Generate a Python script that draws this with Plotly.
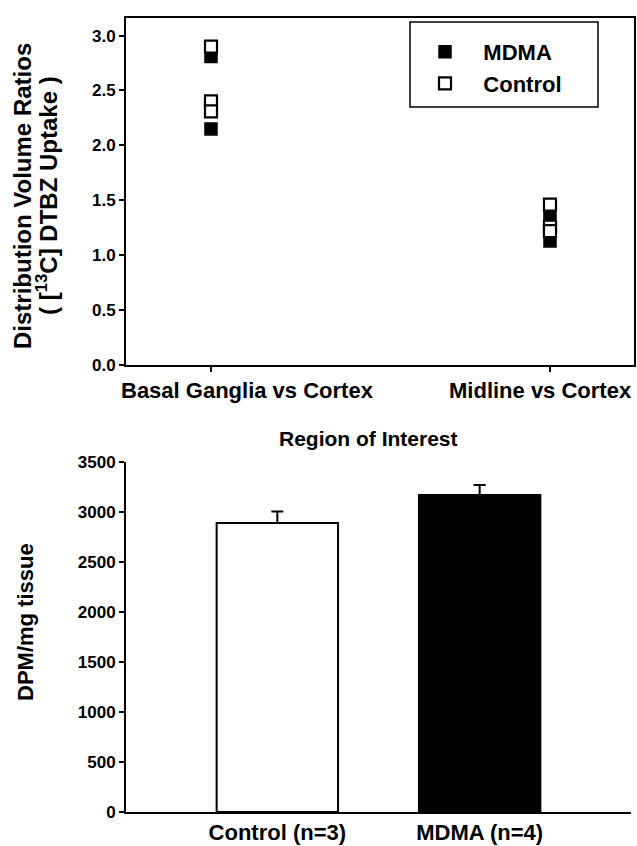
import plotly.graph_objects as go

W, H = 637, 846

# ---- data: top scatter ----
regions = ["Basal Ganglia vs Cortex", "Midline vs Cortex"]
mdma_bg = [2.81, 2.15]
mdma_mid = [1.38, 1.13]
ctrl_bg = [2.90, 2.40, 2.31]
ctrl_mid = [1.46, 1.26, 1.22]

# ---- data: bottom bars ----
groups = ["Control (n=3)", "MDMA (n=4)"]
dpm = [2890, 3170]
dpm_err = [115, 100]

FONT = "Liberation Sans, Arial, sans-serif"

def px_x(p):
    return p / W

def px_y(p):
    return 1 - p / H

fig = go.Figure()

fig.add_trace(go.Scatter(
    x=[0] * len(mdma_bg) + [1] * len(mdma_mid), y=mdma_bg + mdma_mid,
    mode="markers", name="\u00a0\u00a0\u00a0MDMA",
    marker=dict(symbol="square", size=12, color="black", line=dict(color="black", width=1.5)),
    xaxis="x", yaxis="y", legendgroup="a"))
fig.add_trace(go.Scatter(
    x=[0] * len(ctrl_bg) + [1] * len(ctrl_mid), y=ctrl_bg + ctrl_mid,
    mode="markers", name="\u00a0\u00a0\u00a0Control",
    marker=dict(symbol="square", size=12, color="white", line=dict(color="black", width=2.2)),
    xaxis="x", yaxis="y", legendgroup="b"))

fig.add_trace(go.Bar(
    x=[0, 1], y=dpm, width=0.6,
    marker=dict(color=["white", "black"], line=dict(color="black", width=2)),
    error_y=dict(type="data", symmetric=False, array=dpm_err, arrayminus=[0, 0],
                 color="black", thickness=2, width=6),
    showlegend=False, xaxis="x2", yaxis="y2"))

tickfont = dict(family=FONT, size=17, color="black", weight="bold")
catfont = dict(family=FONT, size=22, color="black", weight="bold")

# category labels of the top panel sit slightly off their tick marks (as in the original)
label_shift_px = [37, -9]
cat_annots = [
    dict(text=regions[i], xref="x", yref="paper", x=i, y=px_y(376),
         xshift=label_shift_px[i], xanchor="center", yanchor="top",
         showarrow=False, font=catfont)
    for i in range(len(regions))
]

fig.update_layout(
    width=W, height=H,
    margin=dict(l=0, r=0, t=0, b=0),
    paper_bgcolor="white", plot_bgcolor="white",
    font=dict(family=FONT, color="black"),
    showlegend=True,
    legend=dict(x=px_x(425), y=px_y(31), xanchor="left", yanchor="top",
                font=dict(family=FONT, size=22, color="black", weight="bold"),
                bgcolor="rgba(0,0,0,0)", borderwidth=0, tracegroupgap=0),
    xaxis=dict(domain=[px_x(126), px_x(634)], range=[-0.2507, 1.2478],
               tickvals=[0, 1], showticklabels=False, ticks="outside", ticklen=5,
               tickwidth=1.5, tickcolor="black", showline=True, linecolor="black",
               linewidth=2, mirror=True, showgrid=False, zeroline=False,
               anchor="y", automargin=False),
    yaxis=dict(domain=[px_y(365), px_y(18)], range=[0, 3.16],
               tickvals=[0, 0.5, 1, 1.5, 2, 2.5, 3],
               ticktext=["0.0", "0.5", "1.0", "1.5", "2.0", "2.5", "3.0"],
               ticks="outside", ticklen=5, tickwidth=1.5, tickcolor="black",
               showline=True, linecolor="black", linewidth=2, mirror=True,
               showgrid=False, zeroline=False, tickfont=tickfont,
               anchor="x", automargin=False),
    xaxis2=dict(domain=[px_x(126), px_x(631)], range=[-0.748, 1.748],
                tickvals=[0, 1], ticktext=groups, ticks="", showline=True,
                linecolor="black", linewidth=2, showgrid=False, zeroline=False,
                tickfont=catfont, anchor="y2", automargin=False),
    yaxis2=dict(domain=[px_y(812), px_y(462)], range=[0, 3500], dtick=500,
                ticks="outside", ticklen=5, tickwidth=1.5, tickcolor="black",
                showline=True, linecolor="black", linewidth=2, showgrid=False,
                zeroline=False, tickfont=tickfont, anchor="x2", automargin=False),
    shapes=[dict(type="rect", xref="paper", yref="paper",
                 x0=px_x(410), x1=px_x(598), y0=px_y(107), y1=px_y(22),
                 line=dict(color="black", width=1.5))],
    annotations=cat_annots + [
        dict(text="Distribution Volume Ratios",
             xref="paper", yref="paper", x=px_x(22), y=px_y(196), textangle=-90,
             xanchor="center", yanchor="middle", showarrow=False,
             font=dict(family=FONT, size=24, color="black", weight="bold")),
        dict(text="( [<sup>13</sup>C] DTBZ Uptake )",
             xref="paper", yref="paper", x=px_x(47), y=px_y(196), textangle=-90,
             xanchor="center", yanchor="middle", showarrow=False,
             font=dict(family=FONT, size=24, color="black", weight="bold")),
        dict(text="Region of Interest", xref="paper", yref="paper",
             x=px_x(368), y=px_y(438), xanchor="center", yanchor="middle",
             showarrow=False,
             font=dict(family=FONT, size=21, color="black", weight="bold")),
        dict(text="DPM/mg tissue", xref="paper", yref="paper", x=px_x(25), y=px_y(622),
             textangle=-90, xanchor="center", yanchor="middle", showarrow=False,
             font=dict(family=FONT, size=22, color="black", weight="bold")),
    ],
)

fig.write_html("out.html")
